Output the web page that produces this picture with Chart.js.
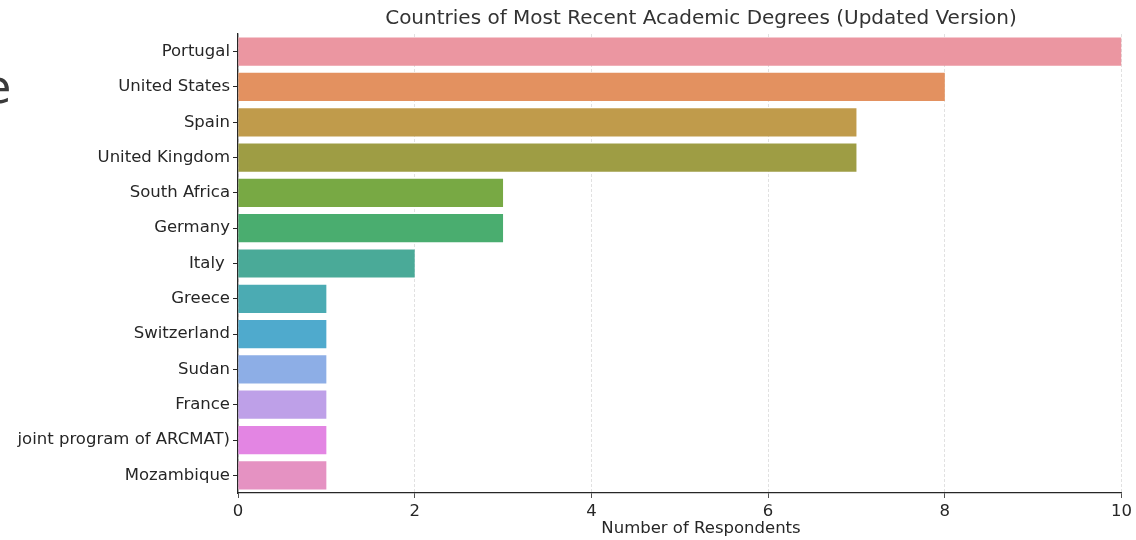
<!DOCTYPE html>
<html>
<head>
<meta charset="utf-8">
<script src="https://cdn.jsdelivr.net/npm/chart.js@4"></script>
<style>
  html, body { margin: 0; padding: 0; background: #fff; }
  #wrap { position: relative; width: 1136px; height: 540px; overflow: hidden; }
  #stray { position: absolute; left: -17px; top: 60px; font: 46px "DejaVu Sans", sans-serif; color: #3a3a3a; }
</style>
</head>
<body>
<div id="wrap">
  <canvas id="chart" width="1136" height="540"></canvas>
  <div id="stray">e</div>
</div>
<script>
// Chart data
const countries = ['Portugal', 'United States', 'Spain', 'United Kingdom', 'South Africa', 'Germany',
    'Italy ', 'Greece', 'Switzerland', 'Sudan', 'France', 'joint program of ARCMAT)', 'Mozambique'];
const respondents = [10, 8, 7, 7, 3, 3, 2, 1, 1, 1, 1, 1, 1];
const barColors = ['#EB96A1', '#E39160', '#C09B4B', '#9E9D44', '#78A944', '#4AAD6F', '#4AAA98',
    '#4BABB3', '#4FAACD', '#8DAEE6', '#BEA0E8', '#E385E3', '#E592C2'];

const titleText = 'Countries of Most Recent Academic Degrees (Updated Version)';
const xTitle = 'Number of Respondents';
const fontFamily = "'DejaVu Sans', sans-serif";
const textColor = '#262626';

// title and x label are placed a bit off the plot center, like the source image
const labelsPlugin = {
    id: 'extraLabels',
    afterDraw(chart) {
        const ctx = chart.ctx;
        ctx.save();
        ctx.fillStyle = '#333333';
        ctx.textAlign = 'center';
        ctx.textBaseline = 'middle';
        ctx.font = '20px ' + fontFamily;
        ctx.fillText(titleText, 701, 19);
        ctx.fillStyle = textColor;
        ctx.font = '16.5px ' + fontFamily;
        ctx.fillText(xTitle, 701, 529);
        ctx.restore();
    }
};

const canvas = document.getElementById('chart');
const ctx = canvas.getContext('2d');

new Chart(ctx, {
    type: 'bar',
    data: {
        labels: countries,
        datasets: [{
            data: respondents,
            backgroundColor: barColors,
            borderWidth: 0,
            barPercentage: 0.8,
            categoryPercentage: 1.0
        }]
    },
    options: {
        indexAxis: 'y',
        responsive: false,
        animation: false,
        layout: {
            padding: { top: 34, right: 14, bottom: 0, left: 0 }
        },
        plugins: {
            legend: { display: false },
            tooltip: { enabled: false }
        },
        scales: {
            x: {
                min: 0,
                max: 10,
                ticks: {
                    stepSize: 2,
                    color: textColor,
                    padding: 4,
                    font: { size: 16.5, family: fontFamily }
                },
                grid: {
                    color: '#d9d9d9',
                    tickColor: '#262626',
                    tickLength: 5,
                    lineWidth: 0.8
                },
                border: {
                    display: true,
                    color: '#262626',
                    width: 1.3,
                    dash: [3, 2]
                },
                afterFit(scale) { scale.height = 47; }
            },
            y: {
                ticks: {
                    color: textColor,
                    padding: 3,
                    font: { size: 16.5, family: fontFamily }
                },
                grid: {
                    offset: false,
                    drawOnChartArea: false,
                    color: '#262626',
                    tickLength: 5
                },
                border: {
                    display: true,
                    color: '#262626',
                    width: 1.3
                },
                afterFit(scale) { scale.width = 238; }
            }
        }
    },
    plugins: [labelsPlugin]
});
</script>
</body>
</html>
